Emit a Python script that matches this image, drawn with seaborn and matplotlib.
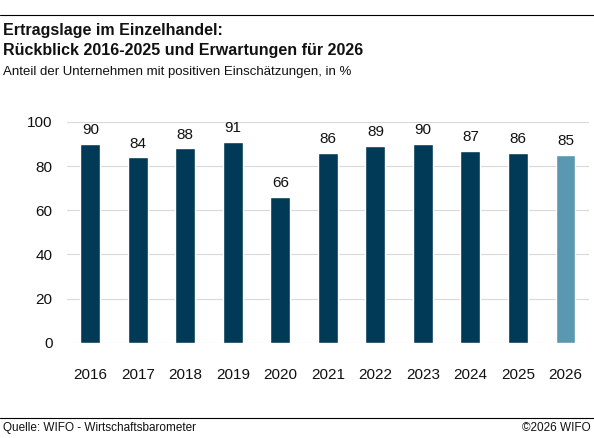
import matplotlib
matplotlib.use("Agg")
import matplotlib.pyplot as plt
import seaborn as sns
import pandas as pd

years = ["2016","2017","2018","2019","2020","2021","2022","2023","2024","2025","2026"]
values = [90, 84, 88, 91, 66, 86, 89, 90, 87, 86, 85]
colors = ["#003a56"]*10 + ["#5a97b1"]

sns.set_theme(style="white")
plt.rcParams['font.family'] = ['Liberation Sans', 'DejaVu Sans']
plt.rcParams['text.color'] = "#111111"

df = pd.DataFrame({"Jahr": years, "Wert": values})
fig = plt.figure(figsize=(5.94, 4.38), dpi=100)
ax = fig.add_axes([0.112, 0.217, 0.88, 0.505])
sns.barplot(data=df, x="Jahr", y="Wert", hue="Jahr", palette=colors, legend=False, width=0.42, ax=ax, saturation=1)
ax.set_ylim(0, 100)
ax.set_yticks([0, 20, 40, 60, 80, 100])
ax.yaxis.grid(True, color="#d9d9d9", linewidth=0.8)
ax.set_axisbelow(True)
for s in ax.spines.values():
    s.set_visible(False)
ax.set_xlabel(""); ax.set_ylabel("")
ax.tick_params(axis="x", pad=18, labelsize=11, length=0, labelcolor="#111111")
ax.tick_params(axis="y", labelsize=11, length=0, pad=10, labelcolor="#111111")
for i, v in enumerate(values):
    ax.text(i, v + 3, str(v), ha="center", va="bottom", fontsize=11, clip_on=False)

fig.add_artist(plt.Line2D([0, 1], [1 - 15/438]*2, color="black", lw=0.8))
fig.add_artist(plt.Line2D([0, 1], [1 - 418/438]*2, color="black", lw=0.8))
fig.text(0.005, 1 - 30/438, "Ertragslage im Einzelhandel:", fontsize=11.5, fontweight="bold", va="center")
fig.text(0.005, 1 - 50/438, "Rückblick 2016-2025 und Erwartungen für 2026", fontsize=11.5, fontweight="bold", va="center")
fig.text(0.005, 1 - 72/438, "Anteil der Unternehmen mit positiven Einschätzungen, in %", fontsize=9.5, va="center")
fig.text(0.005, 1 - 428/438, "Quelle: WIFO - Wirtschaftsbarometer", fontsize=8.5, va="center")
fig.text(0.995, 1 - 428/438, "©2026 WIFO", fontsize=8.5, va="center", ha="right")
fig.savefig("out.png", dpi=100)
